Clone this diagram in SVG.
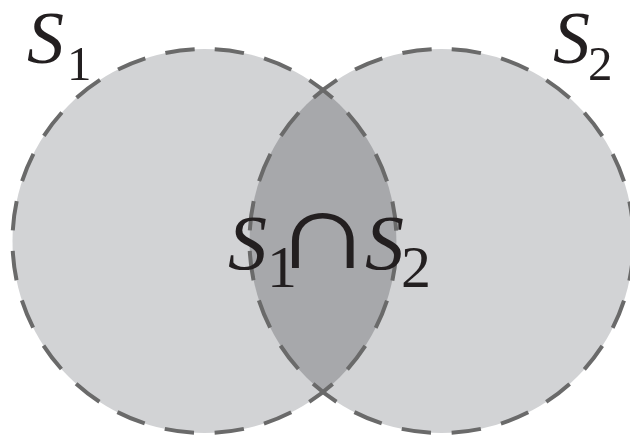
<svg xmlns="http://www.w3.org/2000/svg" width="630" height="436" viewBox="0 0 630 436">
<style>
.set{fill:#d2d3d5;stroke:none}
.lens{fill:#a7a8ab;stroke:none}
.edge{fill:none;stroke:#6a6a6a;stroke-width:4;stroke-dasharray:29.5 20.77;stroke-dashoffset:40}
text{font-family:'Liberation Serif','DejaVu Serif','Times New Roman',serif;fill:#231f20}
.it{font-style:italic}
</style>
<rect width="630" height="436" fill="#ffffff"/>
<g id="fills">
<circle class="set" cx="204.5" cy="241" r="192"/>
<circle class="set" cx="441.5" cy="241" r="192"/>
<path class="lens" d="M323,90 A192,192 0 0,0 323,392 A192,192 0 0,0 323,90 Z"/>
</g>
<g id="S1">
<circle class="edge" cx="204.5" cy="241" r="192" transform="rotate(-90 204.5 241)"/>
<text y="63"><tspan class="it" x="27" font-size="74">S</tspan><tspan x="67" y="80" font-size="49">1</tspan></text>
</g>
<g id="S2">
<circle class="edge" cx="441.5" cy="241" r="192" transform="rotate(-90 441.5 241)"/>
<text y="63"><tspan class="it" x="553" font-size="74">S</tspan><tspan x="588" y="80" font-size="49">2</tspan></text>
</g>
<g id="intersection">
<text y="269"><tspan class="it" x="228" font-size="78">S</tspan><tspan x="267" y="287" font-size="60">1</tspan><tspan class="it" x="365" y="269" font-size="78">S</tspan><tspan x="401" y="287" font-size="60">2</tspan></text>
<text transform="translate(273 268) scale(1.45 1.15)" font-size="95">∩</text>
</g>
</svg>
